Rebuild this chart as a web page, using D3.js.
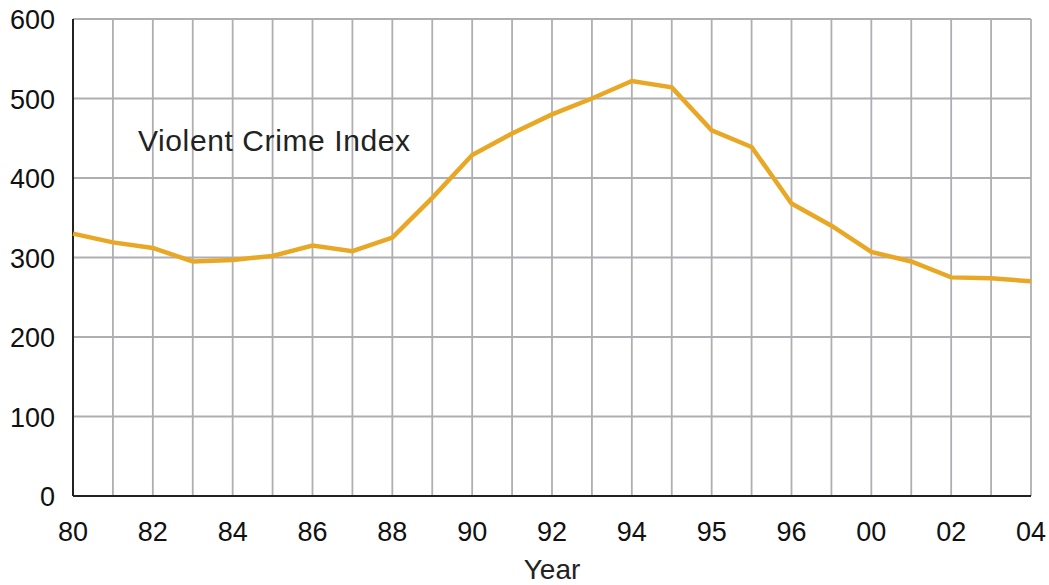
<!DOCTYPE html>
<html>
<head>
<meta charset="utf-8">
<script src="https://cdn.jsdelivr.net/npm/d3@7"></script>
<style>
  body { margin: 0; background: #fff; }
  svg { display: block; font-family: "Liberation Sans", Arial, sans-serif; }
</style>
</head>
<body>
<svg id="chart" width="1049" height="585"></svg>
<script>
// one value per grid column, left to right
const points = d3.range(25);
const crimeIndex = [330, 319, 312, 295, 297, 302, 315, 308, 325, 375, 429, 456, 480, 500, 522,
  514, 460, 439, 368, 340, 307, 295, 275, 274, 270];
const tickLabels = ["80", "82", "84", "86", "88", "90", "92", "94", "95", "96", "00", "02", "04"];
const yTicks = [0, 100, 200, 300, 400, 500, 600];

const margin = {top: 19, right: 18, bottom: 89, left: 73};
const width = 1049 - margin.left - margin.right;
const height = 585 - margin.top - margin.bottom;

const svg = d3.select("#chart");
const g = svg.append("g").attr("transform", `translate(${margin.left},${margin.top})`);

const x = d3.scalePoint().domain(points).range([0, width]);
const y = d3.scaleLinear().domain([0, 600]).range([height, 0]);

// grid
g.append("g")
    .attr("stroke", "#afafb3")
    .attr("stroke-width", 1.8)
    .selectAll("line.v")
    .data(points.slice(1))
    .join("line")
    .attr("x1", d => x(d)).attr("x2", d => x(d))
    .attr("y1", 0).attr("y2", height);

g.append("g")
    .attr("stroke", "#afafb3")
    .attr("stroke-width", 1.8)
    .selectAll("line.h")
    .data(yTicks.slice(1))
    .join("line")
    .attr("x1", 0).attr("x2", width)
    .attr("y1", d => y(d)).attr("y2", d => y(d));

// axes lines
g.append("line")
    .attr("x1", 0).attr("x2", 0).attr("y1", 0).attr("y2", height)
    .attr("stroke", "#222").attr("stroke-width", 2);
g.append("line")
    .attr("x1", 0).attr("x2", width).attr("y1", height).attr("y2", height)
    .attr("stroke", "#222").attr("stroke-width", 2);

// y labels
g.append("g")
    .selectAll("text")
    .data(yTicks)
    .join("text")
    .attr("x", -18)
    .attr("y", d => y(d))
    .attr("dy", "0.38em")
    .attr("text-anchor", "end")
    .attr("font-size", 27)
    .attr("fill", "#111")
    .text(d => d);

// x labels, every other column
g.append("g")
    .selectAll("text")
    .data(tickLabels)
    .join("text")
    .attr("x", (d, i) => x(points[i * 2]))
    .attr("y", height + 45)
    .attr("text-anchor", "middle")
    .attr("font-size", 27)
    .attr("fill", "#111")
    .text(d => d);

g.append("text")
    .attr("x", width / 2)
    .attr("y", height + 83)
    .attr("text-anchor", "middle")
    .attr("font-size", 28)
    .attr("fill", "#222")
    .text("Year");

g.append("text")
    .attr("x", 138 - margin.left)
    .attr("y", 151 - margin.top)
    .attr("font-size", 30)
    .attr("letter-spacing", 0.6)
    .attr("fill", "#222")
    .text("Violent Crime Index");

// the series
const line = d3.line()
    .x((d, i) => x(points[i]))
    .y(d => y(d));

g.append("path")
    .datum(crimeIndex)
    .attr("fill", "none")
    .attr("stroke", "#e8a826")
    .attr("stroke-width", 4.5)
    .attr("stroke-linejoin", "miter")
    .attr("d", line);
</script>
</body>
</html>
